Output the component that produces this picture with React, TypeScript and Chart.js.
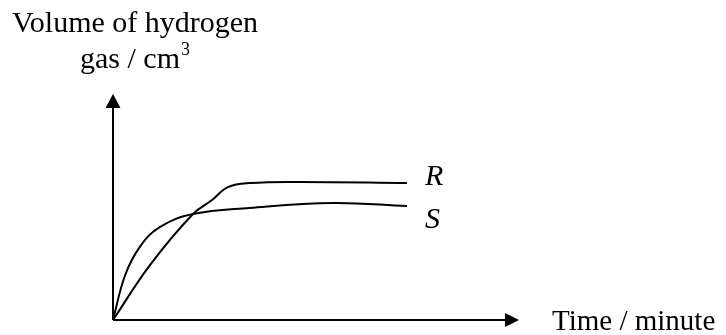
import React, { useEffect, useRef } from "react";
import { Chart, registerables } from "chart.js";

Chart.register(...registerables);

// Schematic data (time in arbitrary minutes, volume in arbitrary cm3)
const timeR = [0, 0.91, 1.97, 2.44, 2.83, 3.37, 4.61, 7.24];
const volR = [0, 2.43, 4.69, 5.31, 5.88, 6.06, 6.11, 6.06];
const timeS = [0, 0.3, 0.67, 1.16, 1.97, 3.37, 5.42, 7.24];
const volS = [0, 1.99, 3.26, 4.12, 4.69, 4.96, 5.18, 5.04];
const seriesLabels = ["R", "S"];
const yTitle = ["Volume of hydrogen", "gas / cm", "3"];
const xTitle = "Time / minute";

const FONT = '"Liberation Serif", "Times New Roman", serif';

const annotate = {
  id: "annotate",
  afterDraw(chart: any) {
    const ctx = chart.ctx as CanvasRenderingContext2D;
    const { left, right, top, bottom } = chart.chartArea;
    const xs = chart.scales.x;
    const ys = chart.scales.y;
    ctx.save();
    ctx.strokeStyle = "#000";
    ctx.fillStyle = "#000";
    ctx.lineWidth = 2;
    // y axis
    ctx.beginPath();
    ctx.moveTo(left, bottom);
    ctx.lineTo(left, top + 12);
    ctx.stroke();
    ctx.beginPath();
    ctx.moveTo(left, top);
    ctx.lineTo(left - 7.5, top + 14);
    ctx.lineTo(left + 7.5, top + 14);
    ctx.closePath();
    ctx.fill();
    // x axis
    ctx.beginPath();
    ctx.moveTo(left, bottom);
    ctx.lineTo(right - 12, bottom);
    ctx.stroke();
    ctx.beginPath();
    ctx.moveTo(right, bottom);
    ctx.lineTo(right - 14, bottom - 7);
    ctx.lineTo(right - 14, bottom + 7);
    ctx.closePath();
    ctx.fill();

    // titles
    ctx.textBaseline = "alphabetic";
    ctx.textAlign = "left";
    ctx.font = `30px ${FONT}`;
    ctx.fillText(yTitle[0], 12, 32);
    ctx.fillText(yTitle[1], 80, 68);
    const w = ctx.measureText(yTitle[1]).width;
    ctx.font = `18px ${FONT}`;
    ctx.fillText(yTitle[2], 80 + w + 1, 55);
    ctx.font = `29px ${FONT}`;
    ctx.fillText(xTitle, 552, 330);

    // series labels
    ctx.font = `italic 30px ${FONT}`;
    const lastR = volR[volR.length - 1];
    const lastS = volS[volS.length - 1];
    const lx = xs.getPixelForValue(timeR[timeR.length - 1]) + 18;
    ctx.fillText(seriesLabels[0], lx, ys.getPixelForValue(lastR) + 2);
    ctx.fillText(seriesLabels[1], lx, ys.getPixelForValue(lastS) + 22);
    ctx.restore();
  },
};

export default function App() {
  const ref = useRef<HTMLCanvasElement>(null);
  useEffect(() => {
    if (!ref.current) return;
    const common = {
      borderColor: "#000",
      borderWidth: 2,
      pointRadius: 0,
      tension: 0.4,
      clip: false as any,
    };
    const chart = new Chart(ref.current, {
      type: "line",
      data: {
        datasets: [
          { label: seriesLabels[0], data: timeR.map((t, i) => ({ x: t, y: volR[i] })), ...common },
          { label: seriesLabels[1], data: timeS.map((t, i) => ({ x: t, y: volS[i] })), ...common },
        ],
      },
      options: {
        animation: false,
        responsive: false,
        maintainAspectRatio: false,
        layout: { padding: { left: 113, right: 207, top: 94, bottom: 15 } },
        plugins: { legend: { display: false }, tooltip: { enabled: false } },
        scales: {
          x: { type: "linear", min: 0, max: 10, display: false },
          y: { type: "linear", min: 0, max: 10, display: false },
        },
      },
      plugins: [annotate],
    });
    return () => chart.destroy();
  }, []);
  return (
    <div style={{ position: "fixed", left: 0, top: 0, width: 726, height: 335, background: "#fff" }}>
      <canvas ref={ref} width={726} height={335} style={{ width: 726, height: 335 }} />
    </div>
  );
}
